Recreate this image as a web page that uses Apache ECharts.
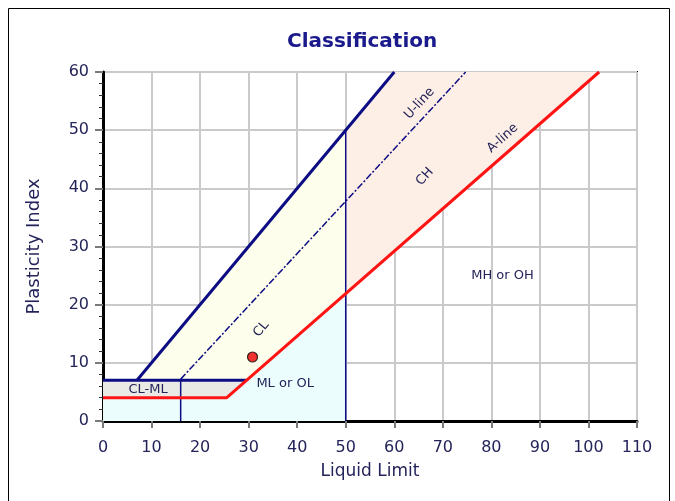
<!DOCTYPE html>
<html>
<head>
<meta charset="utf-8">
<script src="https://cdn.jsdelivr.net/npm/echarts@6/dist/echarts.min.js"></script>
<style>
html,body{margin:0;padding:0;background:#fff;}
#chart{width:675px;height:501px;}
</style>
</head>
<body>
<div id="chart"></div>
<script>
// ---- data ----
const xTicks = [0, 10, 20, 30, 40, 50, 60, 70, 80, 90, 100, 110];
const yTicks = [0, 10, 20, 30, 40, 50, 60];
const aLine = [[0, 4], [25.5, 4], [102.2, 60]];
const uLine = [[16, 7.2], [74.7, 60]];
const upperLine = [[7, 7], [60, 60]];
const line7 = [[0, 7], [29.6, 7]];
const vert16 = [[16, 0], [16, 7]];
const vert50 = [[50, 0], [50, 50]];
const samplePoint = [[30.8, 11]];
const zoneCyan = [[0, 0], [50, 0], [50, 21.9], [25.5, 4], [0, 4]];
const zoneGray = [[0, 4], [25.5, 4], [29.6, 7], [0, 7]];
const zoneYellow = [[7, 7], [29.6, 7], [50, 21.9], [50, 50]];
const zonePink = [[50, 21.9], [102.2, 60], [60, 60], [50, 50]];
const zoneLabels = ['CL', 'CH', 'U-line', 'A-line', 'MH or OH', 'ML or OL', 'CL-ML'];
const labelAnchors = [[32.6, 15.8], [66.3, 42], [65.2, 54.6], [82.3, 48.6], [82.3, 25], [31.6, 6.5], [9.3, 5.4]];

// ---- styles ----
const labelStyle = [
  {rot: 50, size: 13, align: 'center'},
  {rot: 48, size: 13, align: 'center'},
  {rot: 47, size: 13, align: 'center'},
  {rot: 42, size: 13, align: 'center'},
  {rot: 0, size: 13, align: 'center'},
  {rot: 0, size: 13, align: 'left'},
  {rot: 0, size: 13, align: 'center'}
];
const FONT = '"DejaVu Sans", Verdana, sans-serif';
const TXT = '#24245a';
const NAVY = '#0c0c84';

function polygonSeries(points, color) {
  return {
    type: 'custom',
    silent: true,
    z: 1,
    data: [0],
    renderItem: function (params, api) {
      return {
        type: 'polygon',
        shape: {points: points.map(p => api.coord(p))},
        style: {fill: color, stroke: 'none'}
      };
    }
  };
}
function lineSeries(data, color, width, type) {
  return {
    type: 'line',
    data: data,
    symbol: 'none',
    z: 5,
    silent: true,
    lineStyle: {color: color, width: width, type: type || 'solid'},
    animation: false
  };
}

const chart = echarts.init(document.getElementById('chart'), null, {renderer: 'canvas'});
const option = {
  animation: false,
  title: {
    text: 'Classification',
    left: 287,
    top: 32,
    padding: 0,
    textStyle: {fontFamily: FONT, fontSize: 20, fontWeight: 'bold', color: '#1a1a8c'}
  },
  graphic: [{
    type: 'rect',
    shape: {x: 8.5, y: 8.5, width: 661, height: 520},
    style: {fill: 'none', stroke: '#000', lineWidth: 1},
    z: 100
  }],
  grid: {
    left: 103, right: 38, top: 72, bottom: 80,
    show: true, borderColor: '#000', borderWidth: 2, backgroundColor: '#fff'
  },
  xAxis: {
    type: 'value',
    min: 0, max: 110, interval: 10,
    name: 'Liquid Limit',
    nameLocation: 'middle',
    nameGap: 42,
    nameTextStyle: {fontFamily: FONT, fontSize: 17, color: TXT},
    axisLine: {show: true, onZero: false, lineStyle: {color: '#000', width: 3}},
    axisTick: {show: true, length: 7, lineStyle: {color: '#7a7a7a', width: 2}},
    axisLabel: {fontFamily: FONT, fontSize: 16, color: TXT, margin: 19,
      formatter: v => xTicks.includes(v) ? String(v) : ''},
    splitLine: {show: true, lineStyle: {color: '#cacaca', width: 2}}
  },
  yAxis: {
    type: 'value',
    min: 0, max: 60, interval: 10,
    name: 'Plasticity Index',
    nameLocation: 'middle',
    nameGap: 60,
    nameTextStyle: {fontFamily: FONT, fontSize: 18, color: TXT},
    axisLine: {show: true, onZero: false, lineStyle: {color: '#000', width: 3}},
    axisTick: {show: true, length: 8, lineStyle: {color: '#7a7a7a', width: 2}},
    minorTick: {show: true, splitNumber: 5, length: 4, lineStyle: {color: '#333', width: 1}},
    axisLabel: {fontFamily: FONT, fontSize: 16, color: TXT, margin: 14,
      formatter: v => yTicks.includes(v) ? String(v) : ''},
    splitLine: {show: true, lineStyle: {color: '#cacaca', width: 2}}
  },
  series: [
    polygonSeries(zoneCyan, '#ebfdfd'),
    polygonSeries(zoneGray, '#e9e9e6'),
    polygonSeries(zoneYellow, '#fefeec'),
    polygonSeries(zonePink, '#fdeee6'),
    lineSeries(vert16, NAVY, 1.5),
    lineSeries(vert50, NAVY, 1.5),
    lineSeries(uLine, NAVY, 1.5, [7, 2, 2, 2]),
    lineSeries(upperLine, NAVY, 3),
    lineSeries(line7, NAVY, 3),
    lineSeries(aLine, '#ff1414', 3),
    {
      type: 'scatter',
      data: samplePoint,
      symbol: 'circle',
      symbolSize: 10,
      z: 8,
      itemStyle: {color: '#ee0000', borderColor: '#000', borderWidth: 1.2}
    },
    {
      type: 'custom',
      silent: true,
      z: 9,
      data: zoneLabels.map((t, i) => [labelAnchors[i][0], labelAnchors[i][1], i]),
      renderItem: function (params, api) {
        const i = api.value(2);
        const p = api.coord([api.value(0), api.value(1)]);
        const st = labelStyle[i];
        return {
          type: 'text',
          x: p[0], y: p[1],
          rotation: st.rot * Math.PI / 180,
          style: {
            text: zoneLabels[i],
            fill: TXT,
            font: st.size + 'px ' + FONT,
            textAlign: st.align,
            textVerticalAlign: 'middle'
          }
        };
      }
    }
  ]
};
chart.setOption(option);
</script>
</body>
</html>
